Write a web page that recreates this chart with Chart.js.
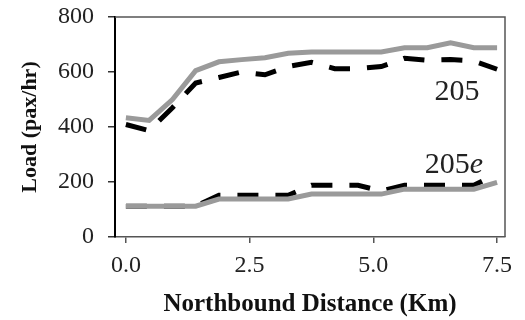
<!DOCTYPE html>
<html>
<head>
<meta charset="utf-8">
<script src="https://cdn.jsdelivr.net/npm/chart.js@4/dist/chart.umd.min.js"></script>
<style>
  html, body { margin: 0; padding: 0; background: #fff; }
  #wrap { width: 525px; height: 320px; }
</style>
</head>
<body>
<div id="wrap"><canvas id="loadChart"></canvas></div>
<script>
// distance along the route (km)
const distances = [0, 0.47, 0.94, 1.41, 1.88, 2.34, 2.81, 3.28, 3.75, 4.22, 4.69, 5.16, 5.63, 6.09, 6.56, 7.03, 7.5];
// route 205 loads (pax/hr)
const load205Gray = [434, 424, 500, 605, 637, 645, 652, 668, 673, 673, 673, 673, 688, 688, 706, 688, 688];
const load205Dash = [409, 387, 470, 560, 580, 600, 590, 620, 635, 612, 612, 620, 650, 643, 645, 640, 610];
// route 205e loads (pax/hr)
const load205eGray = [112, 112, 112, 112, 138, 138, 138, 138, 156, 156, 156, 156, 174, 174, 174, 174, 199];
const load205eDash = [112, 112, 112, 112, 152, 152, 152, 152, 188, 188, 188, 167, 188, 188, 188, 188, 230];
const xTicks = [0, 2.5, 5, 7.5];
const yTicks = [0, 200, 400, 600, 800];

const serif = "'Liberation Serif', 'Times New Roman', serif";

function pts(ys) {
    return ys.map((y, i) => ({ x: distances[i], y: y }));
}

const grayLine = { borderColor: '#9a9a9a', borderWidth: 5, pointRadius: 0, tension: 0, fill: false };
const dashLine = { borderColor: '#000', borderWidth: 5, borderDash: [21, 17], borderCapStyle: 'butt', pointRadius: 0, tension: 0, fill: false };

// frame round the plot + the route labels
const framePlugin = {
    id: 'frame',
    afterDraw(chart) {
        const { ctx, chartArea: a, scales } = chart;
        ctx.save();
        ctx.strokeStyle = '#555';
        ctx.lineWidth = 1.5;
        ctx.beginPath();
        ctx.moveTo(a.left, a.top);
        ctx.lineTo(a.right, a.top);
        ctx.lineTo(a.right, a.bottom);
        ctx.stroke();

        ctx.fillStyle = '#222';
        ctx.textBaseline = 'middle';
        ctx.textAlign = 'center';
        ctx.font = '30px ' + serif;
        ctx.fillText('205', scales.x.getPixelForValue(6.69), scales.y.getPixelForValue(528));

        const x = scales.x.getPixelForValue(6.63);
        const y = scales.y.getPixelForValue(261);
        const w1 = ctx.measureText('205').width;
        ctx.font = 'italic 30px ' + serif;
        const w2 = ctx.measureText('e').width;
        ctx.textAlign = 'left';
        ctx.font = '30px ' + serif;
        ctx.fillText('205', x - (w1 + w2) / 2, y);
        ctx.font = 'italic 30px ' + serif;
        ctx.fillText('e', x - (w1 + w2) / 2 + w1, y);
        ctx.restore();
    }
};

new Chart(document.getElementById('loadChart'), {
    type: 'line',
    data: {
        datasets: [
            Object.assign({ label: '205', data: pts(load205Gray) }, grayLine),
            Object.assign({ label: '205e', data: pts(load205eGray) }, grayLine),
            Object.assign({ label: '205 dashed', data: pts(load205Dash) }, dashLine),
            Object.assign({ label: '205e dashed', data: pts(load205eDash) }, dashLine)
        ]
    },
    options: {
        responsive: true,
        maintainAspectRatio: false,
        animation: false,
        layout: { padding: { left: 17, right: 20, top: 17, bottom: 0 } },
        plugins: { legend: { display: false }, tooltip: { enabled: false } },
        scales: {
            x: {
                type: 'linear',
                min: -0.22,
                max: 7.66,
                afterBuildTicks: axis => { axis.ticks = xTicks.map(v => ({ value: v })); },
                afterFit: scale => {
                    scale.height = 83;
                    scale.paddingLeft = 0;
                    scale.paddingRight = 0;
                },
                border: { color: '#555', width: 1.5 },
                grid: { display: true, drawOnChartArea: false, tickLength: 6, color: '#555', lineWidth: 1.5 },
                ticks: {
                    color: '#222',
                    font: { family: serif, size: 24 },
                    padding: 8,
                    maxRotation: 0,
                    callback: v => v.toFixed(1)
                },
                title: {
                    display: true,
                    text: 'Northbound Distance (Km)',
                    color: '#111',
                    font: { family: serif, size: 25, weight: 'bold' },
                    padding: { top: 4, bottom: 0 }
                }
            },
            y: {
                min: 0,
                max: 800,
                afterBuildTicks: axis => { axis.ticks = yTicks.map(v => ({ value: v })); },
                afterFit: scale => {
                    scale.width = 98;
                    scale.paddingTop = 0;
                    scale.paddingBottom = 0;
                },
                border: { color: '#000', width: 2 },
                grid: { display: true, drawOnChartArea: false, tickLength: 7, color: '#333', lineWidth: 1.5 },
                ticks: {
                    color: '#222',
                    font: { family: serif, size: 24 },
                    padding: 14
                },
                title: {
                    display: true,
                    text: 'Load (pax/hr)',
                    color: '#111',
                    font: { family: serif, size: 22, weight: 'bold' },
                    padding: { top: 0, bottom: 0 }
                }
            }
        }
    },
    plugins: [framePlugin]
});
</script>
</body>
</html>
